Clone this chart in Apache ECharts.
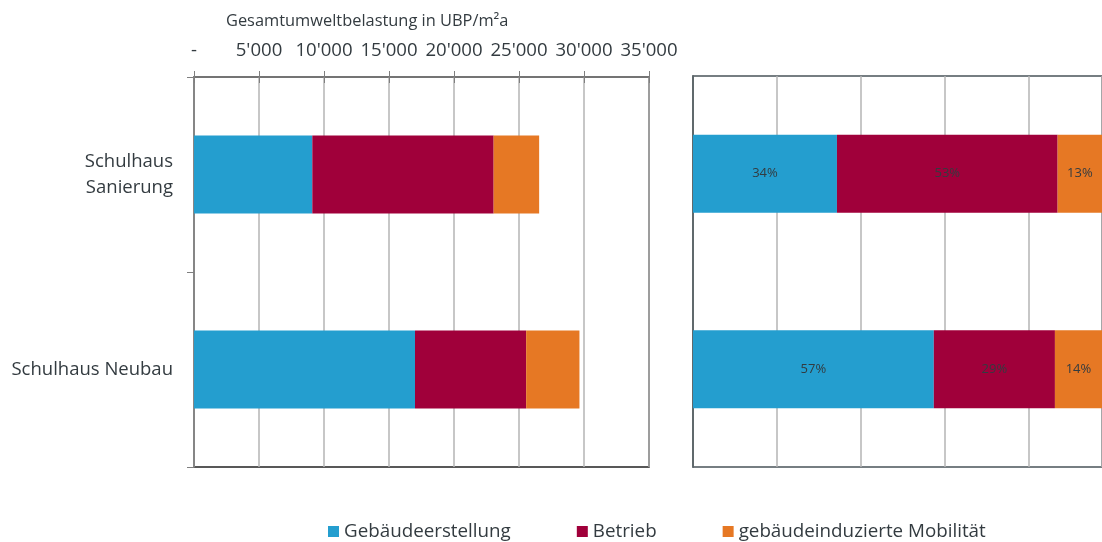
<!DOCTYPE html>
<html>
<head>
<meta charset="utf-8">
<script src="https://cdn.jsdelivr.net/npm/echarts@6/dist/echarts.min.js"></script>
<style>
  html, body { margin: 0; padding: 0; background: #fff; }
  #chart { width: 1102px; height: 542px; }
</style>
</head>
<body>
<div id="chart"></div>
<script>
// Werte in UBP/m2a
const categories = ["Schulhaus Sanierung", "Schulhaus Neubau"];
const gebaeudeerstellung = [9100, 17000];
const betrieb = [13950, 8550];
const mobilitaet = [3500, 4100];
const seriesNames = ["Gebäudeerstellung", "Betrieb", "gebäudeinduzierte Mobilität"];
const colors = ["#249ecf", "#a0003a", "#e67824"];

const totals = categories.map(
  (c, i) => gebaeudeerstellung[i] + betrieb[i] + mobilitaet[i]
);
const share = (arr) => arr.map((v, i) => (v / totals[i]) * 100);

const textColor = "#333b40";
const chart = echarts.init(document.getElementById("chart"));

const formatUBP = (v) =>
  v === 0 ? "-" : String(v).replace(/\B(?=(\d{3})+(?!\d))/g, "'");

// right panel: 100% would sit at x=1113, past the edge of the page
const pctGridLeft = 693;
const pctFullWidth = 420;
const pctVisibleWidth = 1102 - pctGridLeft;

const absSeries = [gebaeudeerstellung, betrieb, mobilitaet].map((data, i) => ({
  name: seriesNames[i],
  type: "bar",
  stack: "abs",
  xAxisIndex: 0,
  yAxisIndex: 0,
  barWidth: "40%",
  itemStyle: { color: colors[i] },
  data: data,
}));

const pctSeries = [gebaeudeerstellung, betrieb, mobilitaet].map((data, i) => ({
  name: seriesNames[i],
  type: "bar",
  stack: "pct",
  xAxisIndex: 2,
  yAxisIndex: 1,
  barWidth: "40%",
  itemStyle: { color: colors[i] },
  label: {
    show: true,
    position: "inside",
    color: textColor,
    fontSize: 13,
    formatter: (p) => Math.round(p.value) + "%",
  },
  data: share(data),
}));

const option = {
  animation: false,
  textStyle: { fontFamily: "Open Sans", color: textColor },
  title: {
    text: "Gesamtumweltbelastung in UBP/m²a",
    left: 221,
    top: 8,
    textStyle: { fontSize: 16.4, fontWeight: "normal", color: textColor },
  },
  legend: {
    left: 323,
    bottom: 0,
    padding: [5, 5, 1, 5],
    icon: "rect",
    itemWidth: 11,
    itemHeight: 11,
    itemGap: 66,
    textStyle: { fontSize: 18.8, color: textColor },
    data: seriesNames,
  },
  grid: [
    {
      left: 194,
      top: 77,
      width: 455,
      height: 390,
      show: true,
      borderColor: "#222",
      borderWidth: 1.5,
    },
    {
      left: pctGridLeft,
      top: 76,
      width: pctVisibleWidth,
      height: 391,
      show: true,
      borderColor: "#4a5459",
      borderWidth: 1.5,
    },
  ],
  xAxis: [
    {
      type: "value",
      gridIndex: 0,
      position: "top",
      min: 0,
      max: 35000,
      interval: 5000,
      axisLine: { show: true, lineStyle: { color: "#7f7f7f", width: 1.5 } },
      axisTick: { show: true, length: 6, lineStyle: { color: "#7f7f7f" } },
      axisLabel: {
        fontSize: 18.6,
        color: textColor,
        margin: 17,
        formatter: formatUBP,
      },
      splitLine: { show: true, lineStyle: { color: "#b4b4b4", width: 1.5 } },
    },
    {
      type: "value",
      gridIndex: 0,
      position: "top",
      offset: 0,
      min: 0,
      max: 35000,
      interval: 5000,
      axisLine: { show: false },
      axisTick: { show: true, inside: true, length: 6, lineStyle: { color: "#7f7f7f" } },
      axisLabel: { show: false },
      splitLine: { show: false },
    },
    {
      type: "value",
      gridIndex: 1,
      min: 0,
      max: (100 * pctVisibleWidth) / pctFullWidth,
      interval: 20,
      axisLine: { show: false },
      axisTick: { show: false },
      axisLabel: { show: false },
      splitLine: { show: true, lineStyle: { color: "#b4b4b4", width: 1.5 } },
    },
  ],
  yAxis: [
    {
      type: "category",
      gridIndex: 0,
      inverse: true,
      data: categories,
      axisLine: { show: true, lineStyle: { color: "#7f7f7f", width: 1.5 } },
      axisTick: { show: true, length: 7, lineStyle: { color: "#7f7f7f" } },
      axisLabel: {
        fontSize: 18.5,
        color: textColor,
        margin: 21,
        lineHeight: 26,
        align: "right",
        formatter: (v) => (v.length > 16 ? v.replace(" ", "\n") : v),
      },
    },
    {
      type: "category",
      gridIndex: 1,
      inverse: true,
      data: categories,
      axisLine: { show: true, lineStyle: { color: "#4a5459", width: 1.5 } },
      axisTick: { show: false },
      axisLabel: { show: false },
    },
  ],
  series: absSeries.concat(pctSeries),
};

chart.setOption(option);
</script>
</body>
</html>
